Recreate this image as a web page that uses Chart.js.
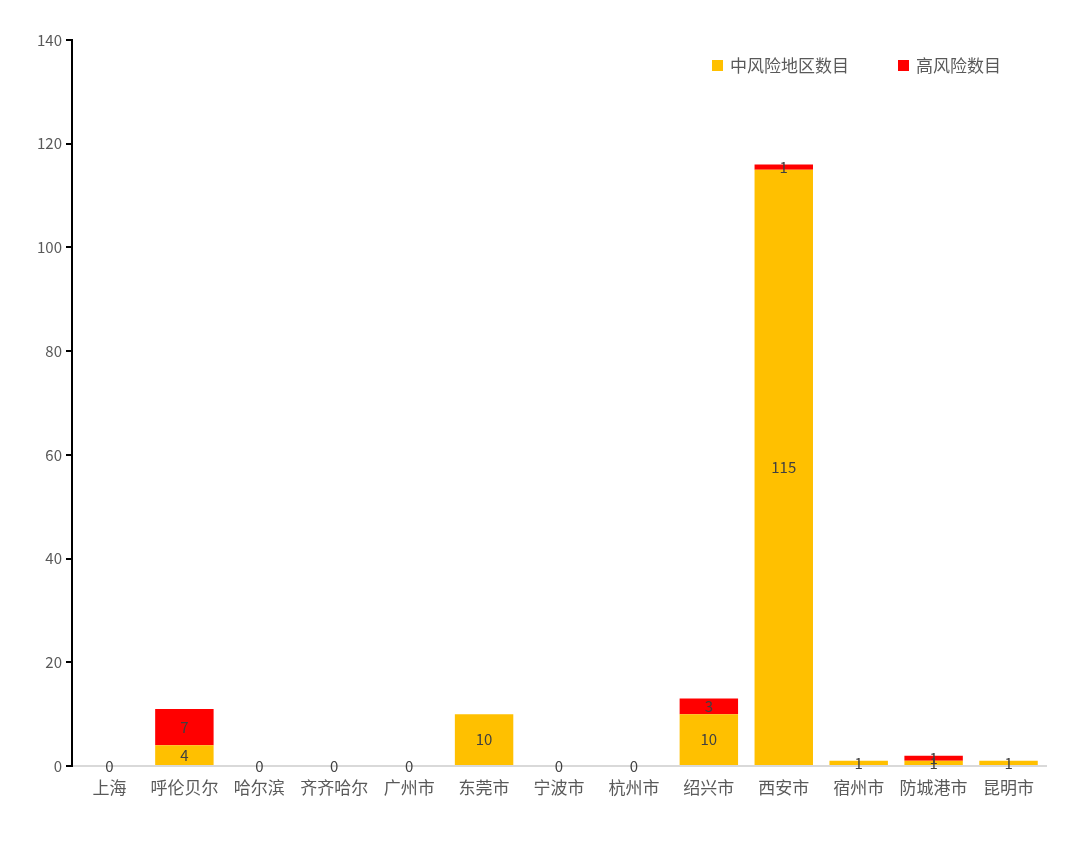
<!DOCTYPE html>
<html>
<head>
<meta charset="utf-8">
<script src="https://cdn.jsdelivr.net/npm/chart.js@4"></script>
<style>
  html, body { margin: 0; padding: 0; background: #fff; }
  #wrap { width: 1080px; height: 848px; }
</style>
</head>
<body>
<div id="wrap"><canvas id="riskChart"></canvas></div>
<script>
const cities = ["上海", "呼伦贝尔", "哈尔滨", "齐齐哈尔", "广州市", "东莞市", "宁波市", "杭州市", "绍兴市", "西安市", "宿州市", "防城港市", "昆明市"];
const mediumRisk = [0, 4, 0, 0, 0, 10, 0, 0, 10, 115, 1, 1, 1];
const highRisk = [0, 7, 0, 0, 0, 0, 0, 0, 3, 1, 0, 1, 0];
const yTicks = [0, 20, 40, 60, 80, 100, 120, 140];

const FONT = "'Noto Sans CJK SC', 'Noto Sans', sans-serif";

// value labels centred in each segment; the red series only where it's non-zero
const barLabels = {
  id: "barLabels",
  afterDatasetsDraw(chart) {
    const ctx = chart.ctx;
    ctx.save();
    ctx.font = "15px " + FONT;
    ctx.fillStyle = "#404040";
    ctx.textAlign = "center";
    ctx.textBaseline = "middle";
    chart.data.datasets.forEach((ds, i) => {
      chart.getDatasetMeta(i).data.forEach((bar, j) => {
        const v = ds.data[j];
        if (i === 1 && v === 0) return;
        ctx.fillText(String(v), bar.x, (bar.y + bar.base) / 2);
      });
    });
    ctx.restore();
  }
};

// legend sits inside the plot, top right
const innerLegend = {
  id: "innerLegend",
  afterDraw(chart) {
    const ctx = chart.ctx;
    const pos = [712, 898];
    ctx.save();
    ctx.font = "17px " + FONT;
    ctx.textBaseline = "middle";
    chart.data.datasets.forEach((ds, i) => {
      ctx.fillStyle = ds.backgroundColor;
      ctx.fillRect(pos[i], 60, 11, 11);
      ctx.fillStyle = "#595959";
      ctx.fillText(ds.label, pos[i] + 18, 66);
    });
    ctx.restore();
  }
};

new Chart(document.getElementById("riskChart"), {
  type: "bar",
  data: {
    labels: cities,
    datasets: [
      { label: "中风险地区数目", data: mediumRisk, backgroundColor: "#FFC000" },
      { label: "高风险数目", data: highRisk, backgroundColor: "#FF0000" },
    ],
  },
  options: {
    responsive: true,
    maintainAspectRatio: false,
    animation: false,
    layout: { padding: { top: 40, right: 34, left: 0, bottom: 0 } },
    datasets: { bar: { categoryPercentage: 1, barPercentage: 0.78 } },
    plugins: {
      legend: { display: false },
      tooltip: { enabled: false },
    },
    scales: {
      x: {
        stacked: true,
        grid: { display: false },
        border: { color: "#d9d9d9", width: 2 },
        ticks: { color: "#595959", font: { size: 17, family: FONT }, padding: 3, maxRotation: 0, autoSkip: false },
        afterFit(scale) { scale.height = 82; },
      },
      y: {
        stacked: true,
        min: 0,
        max: 140,
        afterBuildTicks(scale) { scale.ticks = yTicks.map(v => ({ value: v })); },
        grid: { drawOnChartArea: false, tickLength: 6, color: "#000", lineWidth: 2 },
        border: { color: "#000", width: 2 },
        ticks: { color: "#595959", font: { size: 15, family: FONT }, padding: 4 },
        afterFit(scale) { scale.width = 72; },
      },
    },
  },
  plugins: [barLabels, innerLegend],
});
</script>
</body>
</html>
